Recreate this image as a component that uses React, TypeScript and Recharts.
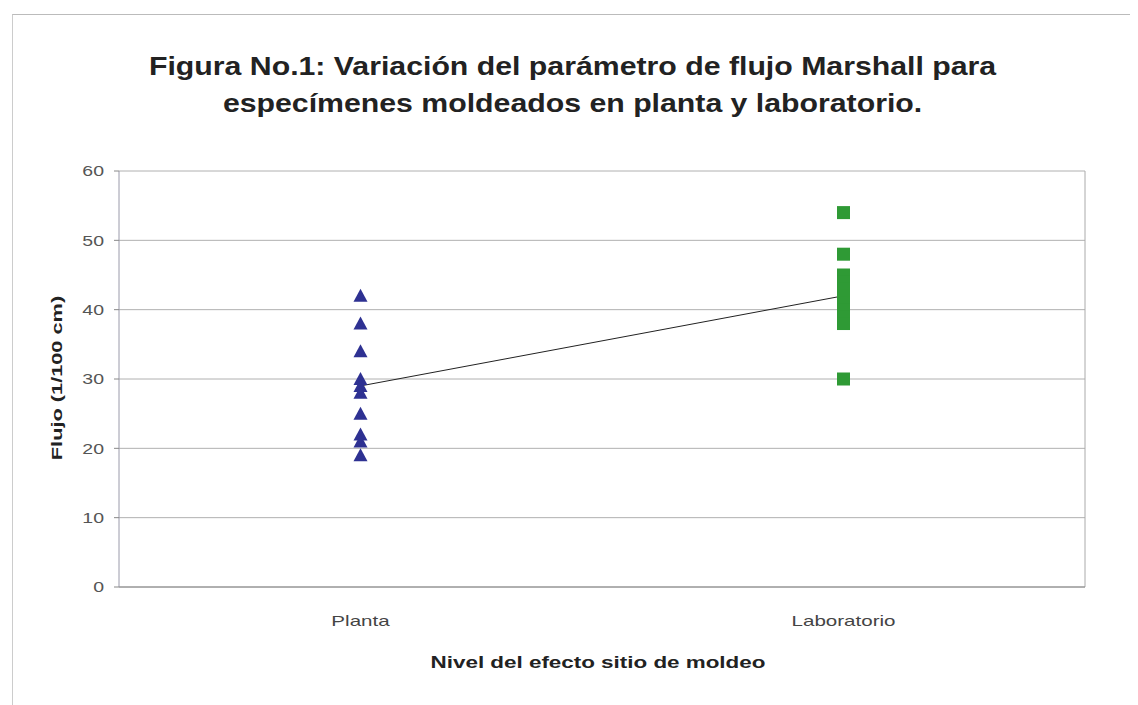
import React from "react";
import {
  ComposedChart,
  Scatter,
  XAxis,
  YAxis,
  CartesianGrid,
  ReferenceLine,
} from "recharts";

const categories = ["Planta", "Laboratorio"];
const plantaValues = [42, 38, 34, 30, 29, 28, 25, 22, 21, 19];
const laboratorioValues = [54, 48, 45, 44, 43, 42, 41, 40, 39, 38, 30];
const meanValues = [29, 42];
const yTicks = [0, 10, 20, 30, 40, 50, 60];

const catPos = (i: number) => i + 0.5;
const plantaData = plantaValues.map((v) => ({ x: catPos(0), y: v }));
const labData = laboratorioValues.map((v) => ({ x: catPos(1), y: v }));
const meanData = meanValues.map((v, i) => ({ x: catPos(i), y: v }));

const font = "'Liberation Sans', Arial, sans-serif";

const Triangle = (props: any) => {
  const { cx, cy } = props;
  if (cx == null || cy == null) return null;
  const s = 7;
  return (
    <polygon
      points={`${cx},${cy - s} ${cx - s},${cy + s - 1} ${cx + s},${cy + s - 1}`}
      fill="#2E3192"
    />
  );
};

const Square = (props: any) => {
  const { cx, cy } = props;
  if (cx == null || cy == null) return null;
  const s = 6.5;
  return <rect x={cx - s} y={cy - s} width={2 * s} height={2 * s} fill="#2F9A35" />;
};

const NoShape = () => null;

const XTick = (props: any) => {
  const { x, y, payload } = props;
  return (
    <g transform={`translate(${x},${y}) scale(1.37,1)`}>
      <text
        x={0}
        y={0}
        dy="0.71em"
        textAnchor="middle"
        fill="#444"
        fontSize={15}
        fontFamily={font}
      >
        {categories[Math.round(payload.value - 0.5)]}
      </text>
    </g>
  );
};

const YTick = (props: any) => {
  const { x, y, payload } = props;
  return (
    <g transform={`translate(${x},${y}) scale(1.3,1)`}>
      <text
        x={0}
        y={0}
        dy="0.35em"
        textAnchor="end"
        fill="#555"
        fontSize={15}
        fontFamily={font}
      >
        {payload.value}
      </text>
    </g>
  );
};

export default function App() {
  return (
    <div
      style={{
        position: "relative",
        width: 1130,
        height: 697,
        fontFamily: font,
        background: "#fff",
      }}
    >
      <div
        style={{
          position: "absolute",
          left: 4,
          top: 6,
          right: -8,
          bottom: -8,
          borderLeft: "1px solid #ccc",
          borderTop: "1px solid #bbb",
        }}
      />
      <div
        style={{
          position: "absolute",
          left: 0,
          width: 1130,
          top: 40,
          textAlign: "center",
          fontWeight: "bold",
          fontSize: 25,
          lineHeight: "37px",
          color: "#222",
          transform: "scaleX(1.21)",
          transformOrigin: "567px 0",
        }}
      >
        <div>Figura No.1: Variación del parámetro de flujo Marshall para</div>
        <div>especímenes moldeados en planta y laboratorio.</div>
      </div>
      <div
        style={{
          position: "absolute",
          left: 49 - 100,
          top: 370 - 10,
          width: 200,
          textAlign: "center",
          transform: "rotate(-90deg) scaleX(1.45)",
          fontWeight: "bold",
          fontSize: 15,
          lineHeight: "20px",
          color: "#222",
        }}
      >
        Flujo (1/100 cm)
      </div>
      <div
        style={{
          position: "absolute",
          left: 590 - 250,
          width: 500,
          top: 646,
          textAlign: "center",
          fontWeight: "bold",
          fontSize: 16,
          color: "#222",
          transform: "scaleX(1.4)",
        }}
      >
        Nivel del efecto sitio de moldeo
      </div>
      <div style={{ position: "absolute", left: 0, top: 0 }}>
        <ComposedChart
          width={1120}
          height={690}
          margin={{ top: 163, right: 43, bottom: 81, left: 51 }}
        >
          <CartesianGrid horizontal={true} vertical={false} stroke="#b0b0b0" />
          <XAxis
            type="number"
            dataKey="x"
            domain={[0, 2]}
            ticks={[0.5, 1.5]}
            tickLine={false}
            axisLine={{ stroke: "#888" }}
            tick={<XTick />}
            tickMargin={22}
            height={30}
            allowDataOverflow
          />
          <YAxis
            type="number"
            dataKey="y"
            domain={[0, 60]}
            ticks={yTicks}
            tickLine={{ stroke: "#888" }}
            tickSize={5}
            tickMargin={10}
            axisLine={{ stroke: "#9a9aaa" }}
            tick={<YTick />}
            width={60}
          />
          <ReferenceLine x={2} stroke="#aaa" />
          <Scatter
            data={meanData}
            line={{ stroke: "#222", strokeWidth: 1 }}
            shape={NoShape}
            isAnimationActive={false}
          />
          <Scatter data={plantaData} shape={Triangle} isAnimationActive={false} />
          <Scatter data={labData} shape={Square} isAnimationActive={false} />
        </ComposedChart>
      </div>
    </div>
  );
}
